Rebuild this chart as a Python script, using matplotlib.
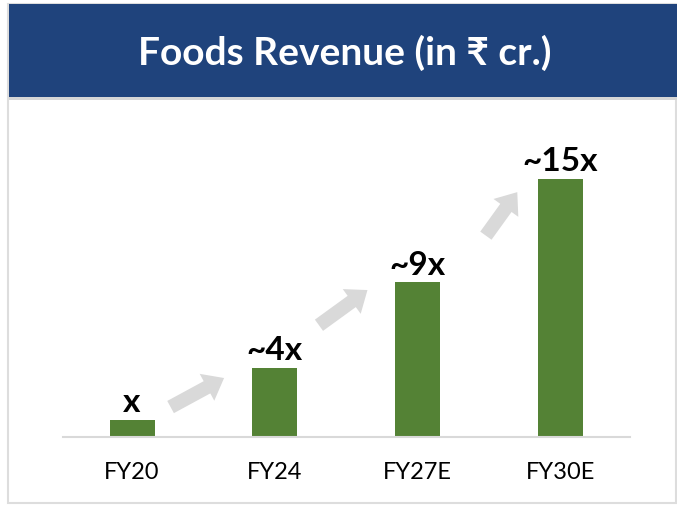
import matplotlib
matplotlib.use("Agg")
import matplotlib.pyplot as plt
from matplotlib.patches import Rectangle, FancyArrowPatch

# data
years = ["FY20", "FY24", "FY27E", "FY30E"]
revenue = [1.0, 4.05, 9.1, 15.2]          # relative to FY20 (x)
labels = ["x", "~4x", "~9x", "~15x"]

# growth arrows: (tail x-offset, tail frac, head x-offset, head frac) between bars
arrow_pos = [(0.27, 0.25, 0.645, 0.81),
             (0.31, 0.50, 0.65, 0.91),
             (0.48, 0.45, 0.70, 0.87)]

GREEN = "#548235"
NAVY = "#1F437C"
ARROW = "#D9D9D9"

plt.rcParams["font.family"] = ["Lato", "Noto Sans", "DejaVu Sans"]

fig = plt.figure(figsize=(6.77, 5.07), dpi=100)
W, H = 677, 507

# outer frame, banner and shadow (behind the axes)
fig.patches.append(Rectangle((8 / W, 4 / H), 668 / W, 499 / H, transform=fig.transFigure,
                             facecolor="white", edgecolor="#DDDDDD", lw=1.5, zorder=-2))
fig.patches.append(Rectangle((9 / W, (H - 100) / H), 668 / W, 3 / H, transform=fig.transFigure,
                             facecolor="#D6D6D6", edgecolor="none", zorder=-1))
fig.patches.append(Rectangle((9 / W, (H - 97) / H), 668 / W, 93 / H, transform=fig.transFigure,
                             facecolor=NAVY, edgecolor="none", zorder=-1))
fig.text(345 / W, (H - 53) / H, "Foods Revenue (in \u20b9 cr.)", color="white",
         fontsize=28, fontweight="bold", ha="center", va="center")

ax = fig.add_axes([63 / W, 70 / H, 567 / W, 317 / H])
x = range(len(years))
ax.bar(x, revenue, width=0.315, color=GREEN)
ax.set_xlim(-0.484, 3.49)
ax.set_ylim(0, 18.65)

for i, (v, lab) in enumerate(zip(revenue, labels)):
    ax.annotate(lab, (i, v), xytext=(0, 2), textcoords="offset points",
                ha="center", va="bottom", fontsize=24, fontweight="bold", color="black")

for i, (tx, tf, hx, hf) in enumerate(arrow_pos):
    d = revenue[i + 1] - revenue[i]
    tail = (i + tx, revenue[i] + tf * d)
    head = (i + hx, revenue[i] + hf * d)
    ax.add_patch(FancyArrowPatch(tail, head, arrowstyle="simple,head_length=1.4,head_width=2.2,tail_width=1.0",
                                 mutation_scale=10, color=ARROW, shrinkA=0, shrinkB=0, lw=0))

ax.set_xticks(list(x))
ax.set_xticklabels(years, fontsize=17)
ax.tick_params(axis="x", length=0, pad=18)
ax.set_yticks([])
for s in ["top", "right", "left"]:
    ax.spines[s].set_visible(False)
ax.spines["bottom"].set_color("#D9D9D9")
ax.spines["bottom"].set_linewidth(1.5)
ax.patch.set_visible(False)

fig.savefig("out.png", dpi=100)
